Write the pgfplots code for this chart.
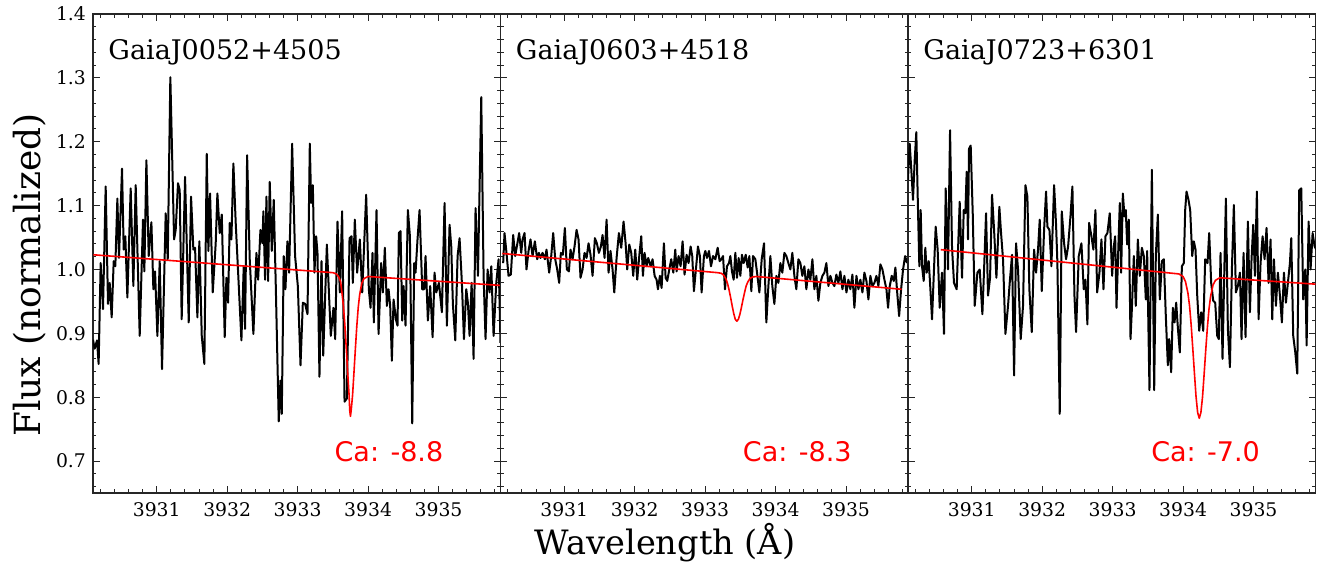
\documentclass[border=0pt]{standalone}
\usepackage{fontspec}
\setmainfont{DejaVu Serif}
\newfontfamily\sansdv{DejaVu Sans}
\usepackage{pgfplots}
\pgfplotsset{compat=1.18}
\begin{document}
\begin{tikzpicture}
\path[use as bounding box] (-46.5pt,-36pt) rectangle (618pt,246.5pt);
\tikzset{
  title node/.style={anchor=base west, inner sep=0pt, font=\fontsize{13.5}{16}\selectfont},
  ca node/.style={anchor=base west, inner sep=0pt, text=red, font=\sansdv\fontsize{13.5}{16}\selectfont},
}
\pgfplotsset{panel/.style={
  width=203.75pt, height=239.5pt, scale only axis,
  xmin=3930.095, xmax=3935.88, ymin=0.65, ymax=1.4,
  xtick={3931,3932,3933,3934,3935},
  ytick={0.7,0.8,0.9,1.0,1.1,1.2,1.3,1.4},
  minor xtick={3930.2,3930.4,3930.6,3930.8,3931.2,3931.4,3931.6,3931.8,3932.2,3932.4,3932.6,3932.8,3933.2,3933.4,3933.6,3933.8,3934.2,3934.4,3934.6,3934.8,3935.2,3935.4,3935.6,3935.8},
  minor ytick={0.66,0.68,0.72,0.74,0.76,0.78,0.82,0.84,0.86,0.88,0.92,0.94,0.96,0.98,1.02,1.04,1.06,1.08,1.12,1.14,1.16,1.18,1.22,1.24,1.26,1.28,1.32,1.34,1.36,1.38},
  tick align=inside, tick pos=both,
  major tick length=3.5pt, minor tick length=1.75pt,
  axis line style={line width=0.6pt, black!85},
  every tick/.style={black!85, line width=0.5pt},
  tick label style={font=\fontsize{9.4}{11}\selectfont},
  /pgf/number format/assume math mode=true,
  /pgf/number format/1000 sep={},
  yticklabel style={/pgf/number format/fixed, /pgf/number format/precision=1, /pgf/number format/fixed zerofill},
  xticklabel style={yshift=-1pt},
  black line/.style={black, line width=1pt, line join=round},
  red line/.style={red, line width=0.8pt, line join=round},
}}
% ---------------- Panel 1 ----------------
\begin{axis}[panel, at={(0pt,0pt)}]
\addplot[black line] coordinates {
(3930.095,0.890)(3930.119,0.876)(3930.152,0.889)(3930.175,0.852)(3930.204,1.010)(3930.237,0.938)(3930.275,1.130)(3930.308,0.946)(3930.332,0.979)(3930.360,0.925)(3930.389,1.013)(3930.412,1.005)(3930.441,1.111)(3930.464,1.018)(3930.507,1.158)(3930.531,1.031)(3930.554,1.052)(3930.583,0.956)(3930.630,1.127)(3930.668,0.974)(3930.701,1.132)(3930.758,0.896)(3930.805,1.078)(3930.824,0.997)(3930.853,1.171)(3930.886,1.021)(3930.924,1.074)(3930.952,0.969)(3930.976,0.997)(3931.009,0.896)(3931.042,1.013)(3931.075,0.844)(3931.127,1.088)(3931.156,1.016)(3931.193,1.301)(3931.246,1.047)(3931.269,1.062)(3931.302,1.135)(3931.326,1.124)(3931.354,0.922)(3931.402,1.145)(3931.454,0.917)(3931.487,1.114)(3931.520,1.031)(3931.544,1.034)(3931.577,0.925)(3931.605,1.044)(3931.639,0.896)(3931.676,0.852)(3931.710,1.181)(3931.733,1.029)(3931.757,1.119)(3931.795,0.964)(3931.837,1.041)(3931.861,1.119)(3931.894,1.057)(3931.923,1.086)(3931.965,0.894)(3931.989,0.987)(3932.013,0.948)(3932.036,1.073)(3932.060,1.047)(3932.088,1.166)(3932.121,1.073)(3932.159,0.987)(3932.202,0.889)(3932.235,1.005)(3932.254,0.907)(3932.283,1.179)(3932.320,1.016)(3932.372,0.899)(3932.415,1.026)(3932.439,0.984)(3932.472,1.062)(3932.500,1.041)(3932.514,1.091)(3932.538,0.984)(3932.557,1.114)(3932.581,0.982)(3932.604,1.137)(3932.633,1.029)(3932.661,1.109)(3932.690,0.974)(3932.732,0.762)(3932.756,0.826)(3932.775,0.774)(3932.803,1.021)(3932.827,0.969)(3932.855,1.044)(3932.879,0.995)(3932.922,1.197)(3932.964,1.021)
(3933.003,0.974)(3933.041,0.850)(3933.074,0.948)(3933.107,0.946)(3933.140,0.930)(3933.173,1.197)(3933.192,1.104)(3933.216,1.132)(3933.239,0.995)(3933.263,1.052)(3933.282,1.026)(3933.310,0.832)(3933.339,1.013)(3933.363,0.865)(3933.415,1.039)(3933.471,0.896)(3933.509,0.940)(3933.533,0.891)(3933.566,1.075)(3933.599,0.964)(3933.632,1.091)(3933.666,0.793)(3933.699,0.798)(3933.737,1.049)(3933.765,1.052)(3933.784,0.979)(3933.812,1.078)(3933.845,0.995)(3933.883,1.047)(3933.917,0.964)(3933.973,1.117)(3934.011,0.969)(3934.035,0.940)(3934.063,1.026)(3934.082,0.917)(3934.120,1.093)(3934.149,0.899)(3934.186,1.010)(3934.210,0.964)(3934.238,1.034)(3934.267,0.943)(3934.291,0.969)(3934.314,0.943)(3934.338,0.857)(3934.362,0.953)(3934.395,0.922)(3934.418,0.912)(3934.437,1.057)(3934.461,1.060)(3934.485,0.920)(3934.504,0.974)(3934.532,0.912)(3934.565,1.093)(3934.594,1.052)(3934.627,0.759)(3934.655,1.010)(3934.674,0.995)(3934.702,1.047)(3934.731,1.093)(3934.769,0.969)(3934.797,0.969)(3934.816,1.021)(3934.849,0.920)(3934.882,0.974)(3934.916,0.894)(3934.944,0.995)(3934.968,0.964)(3935.006,0.979)(3935.048,0.933)(3935.086,1.104)(3935.119,0.912)(3935.157,1.070)(3935.181,1.036)(3935.204,0.946)(3935.238,0.889)(3935.271,1.021)(3935.299,1.049)(3935.332,0.979)(3935.361,0.891)(3935.394,0.969)(3935.417,0.948)(3935.441,0.896)(3935.470,0.979)(3935.498,0.860)(3935.526,1.096)(3935.560,0.990)(3935.607,1.270)(3935.640,0.990)(3935.668,0.891)(3935.697,1.000)(3935.725,0.964)(3935.749,1.005)(3935.782,0.896)(3935.820,0.979)(3935.853,1.016)(3935.880,0.885)
};
\addplot[red line] coordinates {
(3930.10,1.023)(3933.50,0.995)(3933.55,0.993)(3933.58,0.989)(3933.61,0.981)(3933.63,0.963)(3933.65,0.943)(3933.67,0.914)(3933.69,0.878)(3933.71,0.840)(3933.73,0.804)(3933.74,0.779)(3933.75,0.770)(3933.76,0.779)(3933.78,0.803)(3933.80,0.839)(3933.82,0.876)(3933.84,0.911)(3933.86,0.940)(3933.88,0.960)(3933.91,0.978)(3933.94,0.9855)(3934.00,0.989)(3935.88,0.975)
};
\node[title node] at (rel axis cs:0.037,0.904) {GaiaJ0052+4505};
\node[ca node] at (rel axis cs:0.592,0.065) {Ca: -8.8};
\end{axis}
% ---------------- Panel 2 ----------------
\begin{axis}[panel, at={(203.75pt,0pt)}, yticklabels={}]
\addplot[black line] coordinates {
(3930.133,1.010)(3930.152,1.057)(3930.180,1.026)(3930.209,0.990)(3930.242,0.992)(3930.275,1.054)(3930.303,1.021)(3930.332,1.039)(3930.360,1.057)(3930.389,1.026)(3930.408,1.047)(3930.436,1.057)(3930.464,1.000)(3930.493,1.029)(3930.521,1.047)(3930.550,1.021)(3930.583,1.044)(3930.616,1.016)(3930.640,1.026)(3930.663,1.018)(3930.692,1.026)(3930.725,1.016)(3930.748,1.031)(3930.786,0.995)(3930.815,1.021)(3930.843,1.057)(3930.872,1.016)(3930.900,1.000)(3930.928,0.979)(3930.952,1.026)(3930.980,1.023)(3931.009,1.065)(3931.037,1.000)(3931.066,0.997)(3931.089,1.031)(3931.118,1.016)(3931.146,1.036)(3931.175,1.062)(3931.203,1.047)(3931.231,0.987)(3931.260,1.000)(3931.288,1.026)(3931.317,1.018)(3931.345,1.041)(3931.373,1.023)(3931.402,0.990)(3931.435,1.049)(3931.463,1.041)(3931.492,1.026)(3931.520,1.036)(3931.544,1.054)(3931.572,1.018)(3931.601,1.078)(3931.629,0.995)(3931.657,1.029)(3931.686,1.000)(3931.710,0.964)(3931.743,1.018)(3931.776,1.057)(3931.809,1.034)(3931.842,1.075)(3931.871,1.041)(3931.894,1.000)(3931.923,1.039)(3931.951,1.026)(3931.979,0.990)(3932.008,1.031)(3932.036,0.984)(3932.065,1.021)(3932.093,1.052)(3932.117,0.990)(3932.140,1.026)(3932.169,1.005)(3932.192,1.018)(3932.226,1.005)(3932.254,1.016)(3932.283,0.990)(3932.311,0.984)(3932.330,0.969)(3932.358,0.990)(3932.382,0.971)(3932.415,1.041)(3932.439,0.987)(3932.462,0.982)(3932.491,1.000)(3932.519,1.016)(3932.548,0.995)(3932.576,1.031)(3932.595,0.997)(3932.623,1.021)(3932.652,1.005)(3932.680,1.044)(3932.708,0.992)(3932.737,1.023)(3932.765,1.010)(3932.794,1.036)(3932.817,1.021)(3932.841,0.966)(3932.869,1.000)(3932.898,1.036)(3932.926,1.021)(3932.950,0.964)(3932.983,1.021)
(3933.003,1.029)(3933.026,1.018)(3933.055,1.029)(3933.083,1.005)(3933.112,1.021)(3933.145,1.016)(3933.178,1.034)(3933.206,1.013)(3933.230,1.016)(3933.254,1.021)(3933.282,0.969)(3933.310,1.005)(3933.339,1.010)(3933.358,1.021)(3933.381,0.997)(3933.405,0.984)(3933.429,1.026)(3933.452,0.987)(3933.476,1.018)(3933.500,0.990)(3933.523,1.023)(3933.547,1.010)(3933.576,1.023)(3933.604,1.003)(3933.628,1.021)(3933.656,0.966)(3933.680,1.021)(3933.713,1.016)(3933.737,0.995)(3933.770,0.964)(3933.803,1.016)(3933.836,1.041)(3933.869,0.917)(3933.898,0.974)(3933.926,1.021)(3933.954,0.974)(3933.983,0.946)(3934.011,0.990)(3934.040,0.979)(3934.068,1.010)(3934.096,0.995)(3934.125,1.026)(3934.153,1.021)(3934.182,1.010)(3934.210,1.000)(3934.238,1.026)(3934.267,0.990)(3934.295,0.969)(3934.324,1.016)(3934.352,1.010)(3934.380,0.990)(3934.409,1.005)(3934.437,0.969)(3934.466,1.000)(3934.494,0.984)(3934.523,1.016)(3934.551,0.969)(3934.579,0.990)(3934.608,0.951)(3934.636,0.979)(3934.665,0.990)(3934.693,0.995)(3934.721,1.010)(3934.750,0.974)(3934.778,0.990)(3934.807,0.979)(3934.835,0.974)(3934.863,0.992)(3934.892,0.979)(3934.920,0.997)(3934.949,0.969)(3934.977,0.990)(3935.006,0.964)(3935.034,0.984)(3935.062,0.969)(3935.091,0.992)(3935.119,0.940)(3935.148,0.990)(3935.176,0.969)(3935.204,0.984)(3935.233,0.964)(3935.261,0.995)(3935.290,0.982)(3935.318,0.953)(3935.346,0.990)(3935.375,0.974)(3935.403,0.979)(3935.432,0.990)(3935.460,0.974)(3935.488,1.008)(3935.517,1.000)(3935.545,0.984)(3935.574,0.969)(3935.597,0.940)(3935.621,0.974)(3935.649,0.990)(3935.678,0.982)(3935.701,1.003)(3935.725,0.966)(3935.754,0.927)(3935.782,0.969)(3935.810,1.000)(3935.839,1.021)(3935.867,1.010)
};
\addplot[red line] coordinates {
(3930.12,1.025)(3933.175,0.995)(3933.23,0.994)(3933.263,0.991)(3933.296,0.985)(3933.318,0.978)(3933.34,0.968)(3933.362,0.956)(3933.384,0.943)(3933.406,0.931)(3933.428,0.922)(3933.45,0.919)(3933.472,0.922)(3933.494,0.930)(3933.516,0.941)(3933.538,0.953)(3933.56,0.964)(3933.582,0.974)(3933.604,0.980)(3933.637,0.986)(3933.67,0.988)(3933.725,0.989)(3935.79,0.969)
};
\node[title node] at (rel axis cs:0.037,0.904) {GaiaJ0603+4518};
\node[ca node] at (rel axis cs:0.594,0.065) {Ca: -8.3};
\end{axis}
% ---------------- Panel 3 ----------------
\begin{axis}[panel, at={(407.5pt,0pt)}, yticklabels={}]
\addplot[black line] coordinates {
(3930.095,1.140)(3930.104,1.166)(3930.119,1.197)(3930.142,1.156)(3930.166,1.109)(3930.190,1.171)(3930.213,1.215)(3930.237,1.093)(3930.256,1.005)(3930.275,1.093)(3930.294,1.005)(3930.318,0.982)(3930.341,1.034)(3930.360,0.995)(3930.389,1.013)(3930.408,0.979)(3930.436,0.922)(3930.464,1.000)(3930.488,1.067)(3930.516,1.031)(3930.545,0.940)(3930.578,0.995)(3930.606,0.899)(3930.630,1.127)(3930.663,1.000)(3930.692,1.218)(3930.720,1.034)(3930.748,0.979)(3930.786,0.969)(3930.829,1.106)(3930.862,0.987)(3930.886,1.093)(3930.909,1.088)(3930.928,1.153)(3930.947,1.047)(3930.961,1.189)(3930.985,1.194)(3931.014,1.088)(3931.042,0.943)(3931.080,0.995)(3931.113,1.000)(3931.151,0.930)(3931.175,1.000)(3931.203,1.088)(3931.231,0.959)(3931.260,0.987)(3931.288,1.117)(3931.317,1.062)(3931.350,0.987)(3931.392,1.098)(3931.416,1.057)(3931.444,1.016)(3931.478,0.899)(3931.515,0.943)(3931.539,0.979)(3931.572,1.023)(3931.601,0.834)(3931.629,1.041)(3931.657,1.000)(3931.695,0.891)(3931.728,0.943)(3931.762,1.132)(3931.790,1.114)(3931.818,0.969)(3931.852,0.902)(3931.885,1.031)(3931.913,0.995)(3931.941,1.031)(3931.965,1.078)(3931.994,0.966)(3932.027,1.062)(3932.055,1.122)(3932.074,1.067)(3932.103,1.062)(3932.131,1.005)(3932.169,1.132)(3932.197,1.070)(3932.216,1.010)(3932.249,0.774)(3932.278,1.091)(3932.311,1.041)(3932.339,1.016)(3932.368,1.036)(3932.401,1.083)(3932.429,1.130)(3932.458,0.959)(3932.481,0.902)(3932.519,1.021)(3932.557,1.041)(3932.590,0.969)(3932.614,0.984)(3932.642,0.914)(3932.666,1.073)(3932.699,1.052)(3932.727,1.031)(3932.756,1.093)(3932.780,0.964)(3932.813,0.995)(3932.841,1.047)(3932.870,0.969)(3932.898,1.052)(3932.926,1.057)(3932.959,1.088)(3932.993,0.990)
(3933.017,1.036)(3933.036,1.052)(3933.055,0.940)(3933.083,1.041)(3933.102,1.104)(3933.121,0.995)(3933.145,1.119)(3933.168,1.083)(3933.187,1.093)(3933.206,1.039)(3933.230,1.078)(3933.254,0.891)(3933.273,0.938)(3933.301,1.021)(3933.329,0.943)(3933.358,1.047)(3933.386,0.990)(3933.415,1.034)(3933.443,1.021)(3933.471,0.953)(3933.490,1.029)(3933.523,0.811)(3933.557,1.156)(3933.590,0.811)(3933.613,1.021)(3933.642,1.086)(3933.670,0.953)(3933.699,1.013)(3933.727,1.016)(3933.755,0.927)(3933.784,0.850)(3933.803,0.891)(3933.831,0.839)(3933.855,0.940)(3933.879,0.917)(3933.902,0.948)(3933.926,0.909)(3933.954,0.870)(3933.983,1.005)(3934.011,1.010)(3934.030,1.093)(3934.049,1.122)(3934.077,1.109)(3934.101,1.093)(3934.130,1.021)(3934.153,1.044)(3934.177,1.031)(3934.201,0.959)(3934.229,0.904)(3934.257,0.933)(3934.286,0.904)(3934.314,1.016)(3934.347,1.010)(3934.371,1.057)(3934.399,0.979)(3934.428,0.951)(3934.456,0.948)(3934.485,0.896)(3934.508,0.891)(3934.532,1.026)(3934.560,0.860)(3934.589,1.016)(3934.608,1.111)(3934.636,0.907)(3934.665,0.847)(3934.693,1.000)(3934.721,1.101)(3934.750,0.964)(3934.778,0.974)(3934.807,0.995)(3934.830,0.891)(3934.859,1.026)(3934.887,0.894)(3934.920,1.075)(3934.949,0.933)(3934.972,1.016)(3934.996,1.070)(3935.020,0.990)(3935.048,1.122)(3935.072,0.922)(3935.100,1.010)(3935.129,1.052)(3935.157,1.016)(3935.185,1.065)(3935.214,0.979)(3935.242,1.047)(3935.266,0.922)(3935.290,1.016)(3935.318,0.943)(3935.346,0.995)(3935.375,0.959)(3935.403,0.917)(3935.432,0.995)(3935.460,0.948)(3935.488,0.979)(3935.517,1.010)(3935.536,1.049)(3935.564,0.896)(3935.593,0.870)(3935.621,0.837)(3935.649,1.124)(3935.678,1.127)(3935.706,0.953)(3935.735,1.000)(3935.754,0.881)(3935.782,1.075)(3935.810,1.000)(3935.839,1.057)(3935.867,1.036)(3935.891,1.031)
};
\addplot[red line] coordinates {
(3930.56,1.031)(3933.94,0.993)(3934.00,0.989)(3934.034,0.981)(3934.069,0.963)(3934.092,0.943)(3934.115,0.913)(3934.138,0.876)(3934.161,0.838)(3934.184,0.801)(3934.207,0.776)(3934.23,0.767)(3934.253,0.776)(3934.276,0.800)(3934.299,0.836)(3934.322,0.874)(3934.345,0.909)(3934.368,0.938)(3934.391,0.958)(3934.426,0.976)(3934.46,0.983)(3934.52,0.987)(3935.88,0.977)
};
\node[title node] at (rel axis cs:0.037,0.904) {GaiaJ0723+6301};
\node[ca node] at (rel axis cs:0.596,0.065) {Ca: -7.0};
\end{axis}
\node[anchor=base, font=\fontsize{16.8}{20}\selectfont] at (286pt,-31pt) {Wavelength (Å)};
\node[rotate=90, anchor=base, font=\fontsize{18}{22}\selectfont] at (-26pt,109pt) {Flux (normalized)};
\end{tikzpicture}
\end{document}
